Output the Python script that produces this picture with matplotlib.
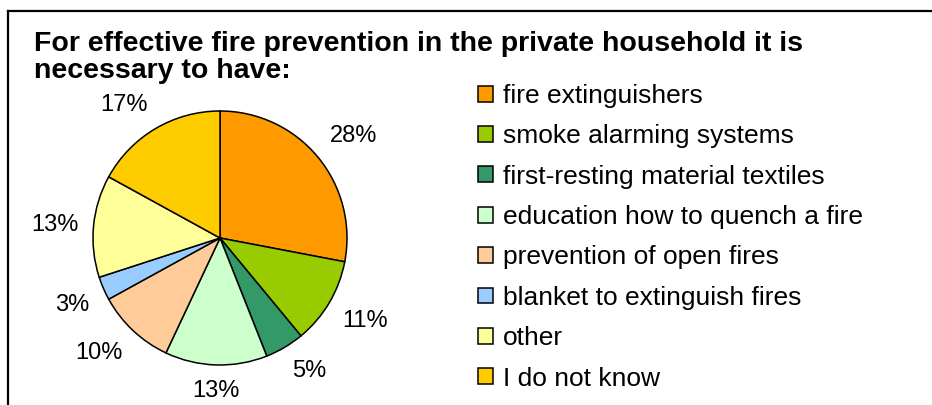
import numpy as np
import matplotlib.pyplot as plt
from matplotlib.lines import Line2D

# Survey answers, pie runs clockwise from 12 o'clock
labels = [
    'fire extinguishers',
    'smoke alarming systems',
    'first-resting material textiles',
    'education how to quench a fire',
    'prevention of open fires',
    'blanket to extinguish fires',
    'other',
    'I do not know',
]
shares = [28, 11, 5, 13, 10, 3, 13, 17]
colors = ['#FF9900', '#99CC00', '#339966', '#CCFFCC',
          '#FFCC99', '#99CCFF', '#FFFF99', '#FFCC00']

title = 'For effective fire prevention in the private household it is\nnecessary to have:'

plt.rcParams['font.family'] = ['Liberation Sans', 'DejaVu Sans']

W, H = 932, 405
fig = plt.figure(figsize=(W / 100, H / 100), dpi=100)

def px(x, y):
    # pixel position (from top-left) -> figure fraction
    return x / W, 1 - y / H

# chart frame: only top and left edges visible in the crop
fig.add_artist(Line2D([8 / W, 1], [1 - 11 / H, 1 - 11 / H], color='black', lw=1.6, transform=fig.transFigure))
fig.add_artist(Line2D([8 / W, 8 / W], [1 - 11 / H, 0], color='black', lw=1.6, transform=fig.transFigure))

# title (baseline of the last line)
tx, ty = px(34, 78)
fig.text(tx, ty, title, fontsize=20.5, fontweight='bold', ha='left', va='baseline', linespacing=1.05)

# pie
cx, cy, r = 220, 238, 127
ax = fig.add_axes([(cx - r) / W, (H - cy - r) / H, 2 * r / W, 2 * r / H])
wedges, texts, autotexts = ax.pie(
    shares, colors=colors, startangle=90, counterclock=False, radius=1,
    autopct='%.0f%%', pctdistance=1.12,
    wedgeprops={'edgecolor': 'black', 'linewidth': 1.1},
    textprops={'fontsize': 17},
)
ax.set_xlim(-1, 1)
ax.set_ylim(-1, 1)
ax.set_aspect('equal')

# align labels outward like a spreadsheet chart
for w, t in zip(wedges, autotexts):
    ang = np.deg2rad((w.theta1 + w.theta2) / 2)
    c, s = np.cos(ang), np.sin(ang)
    t.set_ha('left' if c > 0.3 else 'right' if c < -0.3 else 'center')
    t.set_va('bottom' if s > 0.3 else 'top' if s < -0.3 else 'center')
    t.set_clip_on(False)

# legend
lx, ly = px(478, 84)
fig.legend(wedges, labels, loc='upper left', bbox_to_anchor=(lx, ly),
           frameon=False, fontsize=19, borderpad=0, borderaxespad=0,
           handlelength=0.55, handleheight=0.55, handletextpad=0.4,
           labelspacing=0.62)

fig.savefig('out.png', dpi=100)
